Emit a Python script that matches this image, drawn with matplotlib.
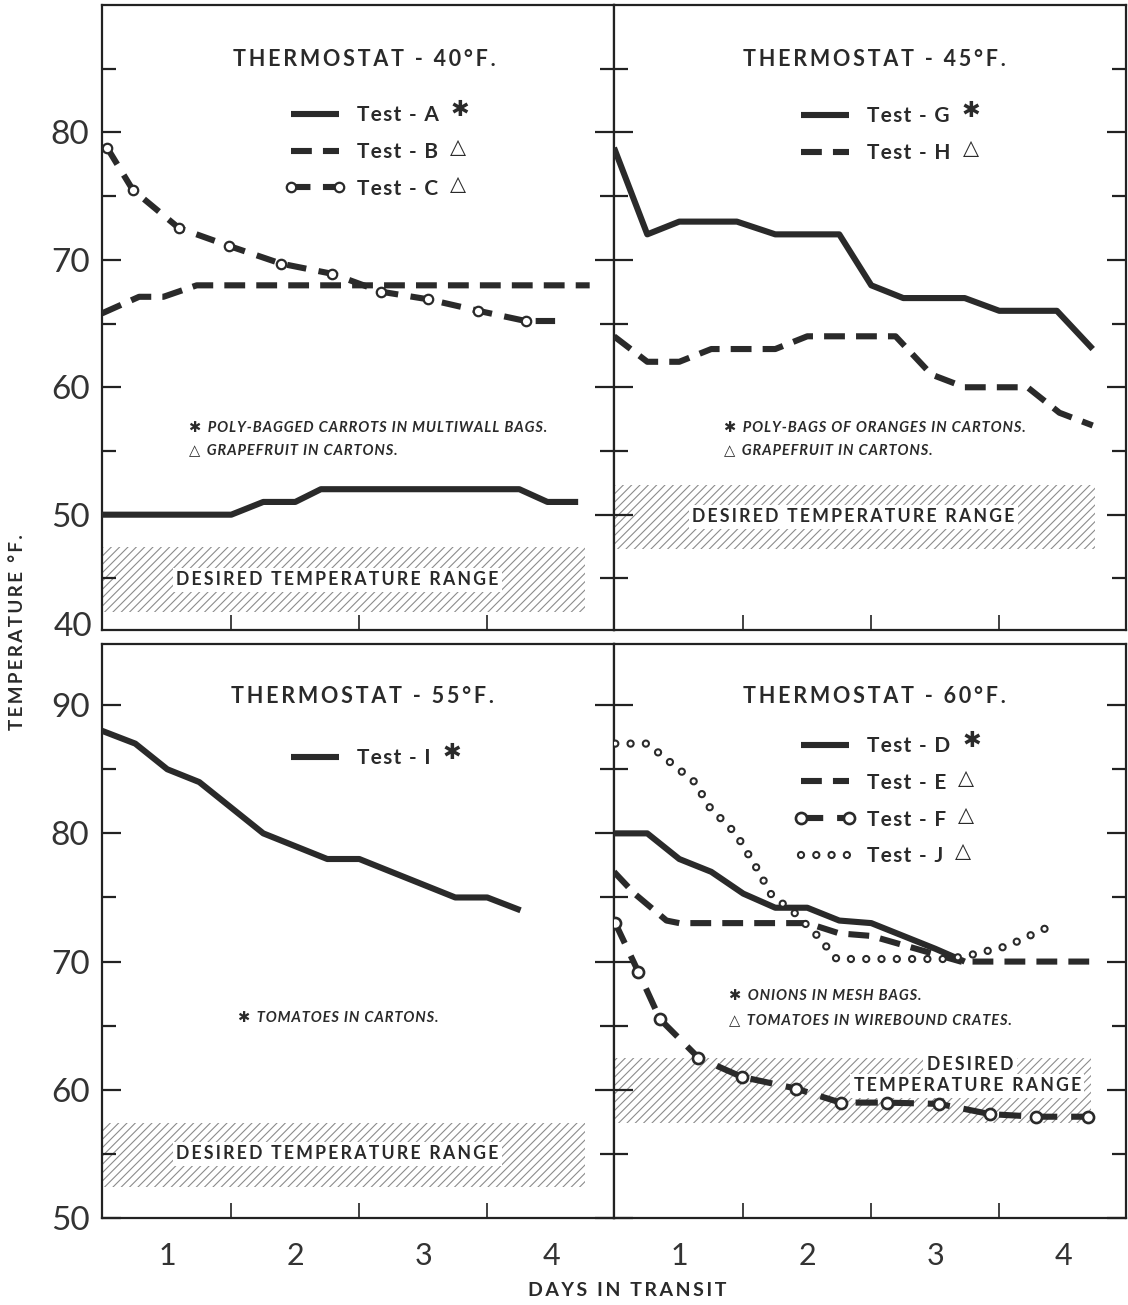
import matplotlib
matplotlib.use('Agg')
import matplotlib.pyplot as plt
from matplotlib.ticker import FixedLocator
from matplotlib.transforms import blended_transform_factory

plt.rcParams['font.family'] = ['Lato', 'DejaVu Sans']
plt.rcParams['lines.scale_dashes'] = False
plt.rcParams['hatch.linewidth'] = 0.8
plt.rcParams['hatch.color'] = '#8c8c8c'

# ---------------- data ----------------
DAY_TICKS = [1, 2, 3, 4]

# Thermostat 40 F
A_DAYS = [0.49, 1.5, 1.75, 2.0, 2.2, 3.75, 3.97, 4.21]
A_TEMP = [50, 50, 51, 51, 52, 52, 51, 51]
B_DAYS = [0.49, 0.78, 0.97, 1.23, 4.3]
B_TEMP = [65.8, 67.1, 67.1, 68.0, 68.0]
C_DAYS = [0.53, 0.73, 1.09, 1.48, 1.89, 2.29, 2.67, 3.04, 3.43, 3.80, 4.03]
C_TEMP = [78.8, 75.5, 72.5, 71.1, 69.7, 68.9, 67.5, 66.9, 66.0, 65.2, 65.2]

# Thermostat 45 F
G_DAYS = [0.49, 0.75, 1.0, 1.45, 1.75, 2.25, 2.5, 2.75, 3.23, 3.5, 3.95, 4.23]
G_TEMP = [78.8, 72, 73, 73, 72, 72, 68, 67, 67, 66, 66, 63]
H_DAYS = [0.49, 0.75, 1.0, 1.25, 1.75, 2.0, 2.69, 2.97, 3.23, 3.72, 3.97, 4.23]
H_TEMP = [64, 62, 62, 63, 63, 64, 64, 61, 60, 60, 58, 57]

# Thermostat 55 F
I_DAYS = [0.49, 0.75, 1.0, 1.25, 1.5, 1.75, 2.0, 2.25, 2.5, 2.75, 3.0, 3.25, 3.5, 3.76]
I_TEMP = [88, 87, 85, 84, 82, 80, 79, 78, 78, 77, 76, 75, 75, 74]

# Thermostat 60 F
D_DAYS = [0.49, 0.75, 1.0, 1.25, 1.5, 1.75, 2.0, 2.25, 2.5, 2.75, 3.0, 3.23]
D_TEMP = [80, 80, 78, 77, 75.3, 74.2, 74.2, 73.2, 73, 72, 71, 70]
E_DAYS = [0.49, 0.65, 0.9, 1.0, 2.0, 2.25, 2.5, 2.85, 3.2, 4.25]
E_TEMP = [77, 75.3, 73.2, 73, 73, 72.2, 72, 71, 70, 70]
F_DAYS = [0.50, 0.68, 0.85, 1.15, 1.49, 1.91, 2.26, 2.62, 3.03, 3.43, 3.79, 4.19]
F_TEMP = [73, 69.2, 65.5, 62.5, 61, 60.1, 59, 59, 58.9, 58.1, 57.9, 57.9]
J_DAYS = [0.50, 0.75, 0.91, 1.12, 1.24, 1.44, 1.61, 1.72, 1.90, 2.08, 2.23, 3.10, 3.27, 3.56, 3.95]
J_TEMP = [87, 87, 85.7, 84.0, 82, 80, 77.2, 75.2, 73.8, 72.0, 70.2, 70.2, 70.5, 71.2, 73]

# desired temperature range bands (TL, TR, BL, BR)
BAND_LOW = [42.4, 47.3, 52.4, 57.4]
BAND_HIGH = [47.5, 52.3, 57.4, 62.5]
BAND_END = [4.26, 4.25, 4.26, 4.22]

TITLES = ['THERMOSTAT - 40°F.', 'THERMOSTAT - 45°F.',
          'THERMOSTAT - 55°F.', 'THERMOSTAT - 60°F.']

# ---------------- helpers ----------------
INK = '#2a2a2a'
W, H = 1128, 1305
HAIR = '\u200a'
THIN = '\u2009'


def spaced(s, sp=THIN):
    return sp.join(list(s))


def rect(x0, y0, x1, y1):
    return [x0 / W, 1 - y1 / H, (x1 - x0) / W, (y1 - y0) / H]


fig = plt.figure(figsize=(W / 100, H / 100), dpi=100)
ax_tl = fig.add_axes(rect(102, 5, 614, 630))
ax_tr = fig.add_axes(rect(614, 5, 1126, 630))
ax_bl = fig.add_axes(rect(102, 644, 614, 1218))
ax_br = fig.add_axes(rect(614, 644, 1126, 1218))
axes = [ax_tl, ax_tr, ax_bl, ax_br]


def style(ax, ylim, major, minor, ylabels, xlabels):
    ax.set_xlim(0.49, 4.49)
    ax.set_ylim(*ylim)
    for s in ax.spines.values():
        s.set_linewidth(1.6)
        s.set_color('#222222')
    ax.yaxis.set_major_locator(FixedLocator(major))
    ax.yaxis.set_minor_locator(FixedLocator(minor))
    ax.tick_params(axis='y', which='both', direction='in', left=True,
                   right=True, width=1.6, color='#222222')
    ax.tick_params(axis='y', which='major', length=14, labelleft=ylabels,
                   labelsize=24, pad=9, labelcolor='#333333')
    ax.tick_params(axis='y', which='minor', length=10)
    ax.xaxis.set_major_locator(FixedLocator(DAY_TICKS))
    ax.xaxis.set_minor_locator(FixedLocator([1.5, 2.5, 3.5]))
    ax.tick_params(axis='x', which='major', length=0, labelbottom=xlabels,
                   labelsize=22, pad=17, labelcolor='#333333')
    ax.tick_params(axis='x', which='minor', direction='in', length=11,
                   width=1.2, color='#222222')


style(ax_tl, (40.95, 90.0), [50, 60, 70, 80], [45, 55, 65, 75, 85], True, False)
style(ax_tr, (40.95, 90.0), [50, 60, 70, 80], [45, 55, 65, 75, 85], False, False)
style(ax_bl, (50.0, 94.77), [50, 60, 70, 80, 90], [55, 65, 75, 85], True, True)
style(ax_br, (50.0, 94.77), [50, 60, 70, 80, 90], [55, 65, 75, 85], False, True)

# "40" label at the bottom of the top-left panel
ax_tl.text(-0.018, 41.2, '40', transform=blended_transform_factory(ax_tl.transAxes, ax_tl.transData),
           ha='right', va='center', fontsize=24, color='#333333', clip_on=False)

# ---------------- bands ----------------
for ax, lo, hi, end in zip(axes, BAND_LOW, BAND_HIGH, BAND_END):
    ax.fill_between([0.49, end], lo, hi, facecolor='none', edgecolor='#8c8c8c',
                    hatch='////', linewidth=0, zorder=1)

band_kw = dict(ha='center', va='center', fontsize=12.7, weight='bold', color=INK,
               zorder=2, bbox=dict(facecolor='white', edgecolor='none', pad=2.5))
ax_tl.text(2.33, 44.9, spaced('DESIRED TEMPERATURE RANGE'), **band_kw)
ax_tr.text(2.36, 49.85, spaced('DESIRED TEMPERATURE RANGE'), **band_kw)
ax_bl.text(2.33, 55.0, spaced('DESIRED TEMPERATURE RANGE'), **band_kw)
ax_br.text(3.27, 61.95, spaced('DESIRED'), **band_kw)
ax_br.text(3.25, 60.3, spaced('TEMPERATURE RANGE'), **band_kw)

# ---------------- lines ----------------
LW = 4.4
solid_kw = dict(color=INK, lw=LW, solid_capstyle='butt', solid_joinstyle='round', zorder=4)
dash_kw = dict(color=INK, lw=LW, linestyle=(0, (15, 8)), dash_capstyle='butt', zorder=4)


def circles(ax, x, y, ms, mew):
    return ax.plot(x, y, linestyle='none', marker='o', ms=ms, mfc='white',
                   mec=INK, mew=mew, zorder=5)[0]


def dotted(ax, x, y):
    outer = ax.plot(x, y, color=INK, lw=6.0, linestyle=(0, (0.01, 11.0)),
                    dash_capstyle='round', zorder=4)[0]
    inner = ax.plot(x, y, color='white', lw=3.0, linestyle=(0, (0.01, 11.0)),
                    dash_capstyle='round', zorder=4.1)[0]
    return (outer, inner)


la, = ax_tl.plot(A_DAYS, A_TEMP, **solid_kw)
lb, = ax_tl.plot(B_DAYS, B_TEMP, **dash_kw)
lc, = ax_tl.plot(C_DAYS, C_TEMP, color=INK, lw=LW, linestyle=(0, (14, 9)), dash_capstyle='butt', zorder=4)
mc = circles(ax_tl, C_DAYS[:-1], C_TEMP[:-1], 6.8, 1.6)

lg, = ax_tr.plot(G_DAYS, G_TEMP, **solid_kw)
lh, = ax_tr.plot(H_DAYS, H_TEMP, **dash_kw)

li, = ax_bl.plot(I_DAYS, I_TEMP, **solid_kw)

ld, = ax_br.plot(D_DAYS, D_TEMP, **solid_kw)
le, = ax_br.plot(E_DAYS, E_TEMP, **dash_kw)
lf, = ax_br.plot(F_DAYS, F_TEMP, color=INK, lw=LW, linestyle=(0, (16, 10)), dash_capstyle='butt', zorder=4)
mf = circles(ax_br, F_DAYS, F_TEMP, 8.0, 1.9)
lj = dotted(ax_br, J_DAYS, J_TEMP)

# ---------------- titles ----------------
title_pos = [(0.512, 0.912), (0.508, 0.912), (0.508, 0.908), (0.508, 0.908)]
for ax, t, (x, y) in zip(axes, TITLES, title_pos):
    ax.text(x, y, spaced(t), transform=ax.transAxes, ha='center', va='center',
            fontsize=15.5, weight='bold', color=INK)

# ---------------- legends ----------------
leg_kw = dict(loc='upper left', frameon=False, handlelength=2.9, handletextpad=0.55,
              labelspacing=0.81, borderpad=0, borderaxespad=0, numpoints=2,
              prop=dict(weight='bold', size=15))


def lab(s):
    return spaced(s, HAIR)


legends = []
legends.append((ax_tl.legend([la, lb, (lc, mc)], [lab('Test - A'), lab('Test - B'), lab('Test - C')],
                             bbox_to_anchor=(0.357, 0.84), **leg_kw), ['✱', '△', '△']))
legends.append((ax_tr.legend([lg, lh], [lab('Test - G'), lab('Test - H')],
                             bbox_to_anchor=(0.354, 0.838), **leg_kw), ['✱', '△']))
legends.append((ax_bl.legend([li], [lab('Test - I')],
                             bbox_to_anchor=(0.357, 0.819), **leg_kw), ['✱']))
legends.append((ax_br.legend([ld, le, (lf, mf), lj],
                             [lab('Test - D'), lab('Test - E'), lab('Test - F'), lab('Test - J')],
                             bbox_to_anchor=(0.354, 0.84), **leg_kw), ['✱', '△', '△', '△']))
for leg, _ in legends:
    for t in leg.get_texts():
        t.set_color(INK)

# ---------------- notes ----------------
note_kw = dict(fontsize=10.5, weight='bold', style='italic', color=INK, va='center', ha='left')


def note(s):
    return spaced(s, HAIR)


ax_tl.text(0.17, 0.323, '✱  ' + note('POLY-BAGGED CARROTS IN MULTIWALL BAGS.'), transform=ax_tl.transAxes, **note_kw)
ax_tl.text(0.17, 0.288, '△  ' + note('GRAPEFRUIT IN CARTONS.'), transform=ax_tl.transAxes, **note_kw)
ax_tr.text(0.215, 0.323, '✱  ' + note('POLY-BAGS OF ORANGES IN CARTONS.'), transform=ax_tr.transAxes, **note_kw)
ax_tr.text(0.215, 0.288, '△  ' + note('GRAPEFRUIT IN CARTONS.'), transform=ax_tr.transAxes, **note_kw)
ax_bl.text(0.265, 0.348, '✱  ' + note('TOMATOES IN CARTONS.'), transform=ax_bl.transAxes, **note_kw)
ax_br.text(0.225, 0.387, '✱  ' + note('ONIONS IN MESH BAGS.'), transform=ax_br.transAxes, **note_kw)
ax_br.text(0.225, 0.345, '△  ' + note('TOMATOES IN WIREBOUND CRATES.'), transform=ax_br.transAxes, **note_kw)

# ---------------- axis labels ----------------
fig.text(18 / W, 1 - 632 / H, spaced('TEMPERATURE °F.'), rotation=90, ha='center',
         va='center', fontsize=13.5, weight='bold', color=INK)
fig.text(627 / W, 1 - 1290 / H, spaced('DAYS IN TRANSIT'), ha='center', va='center',
         fontsize=14, weight='bold', color=INK)

# ---------------- legend superscript symbols ----------------
fig.canvas.draw()
renderer = fig.canvas.get_renderer()
for leg, syms in legends:
    for t, s in zip(leg.get_texts(), syms):
        bb = t.get_window_extent(renderer)
        fig.text((bb.x1 + 12) / W, (bb.y1 + 5) / H, s, ha='left', va='top',
                 fontsize=16 if s == '✱' else 15, weight='bold', color=INK,
                 family=['DejaVu Sans'])

fig.savefig('out.png', dpi=100, facecolor='white')
